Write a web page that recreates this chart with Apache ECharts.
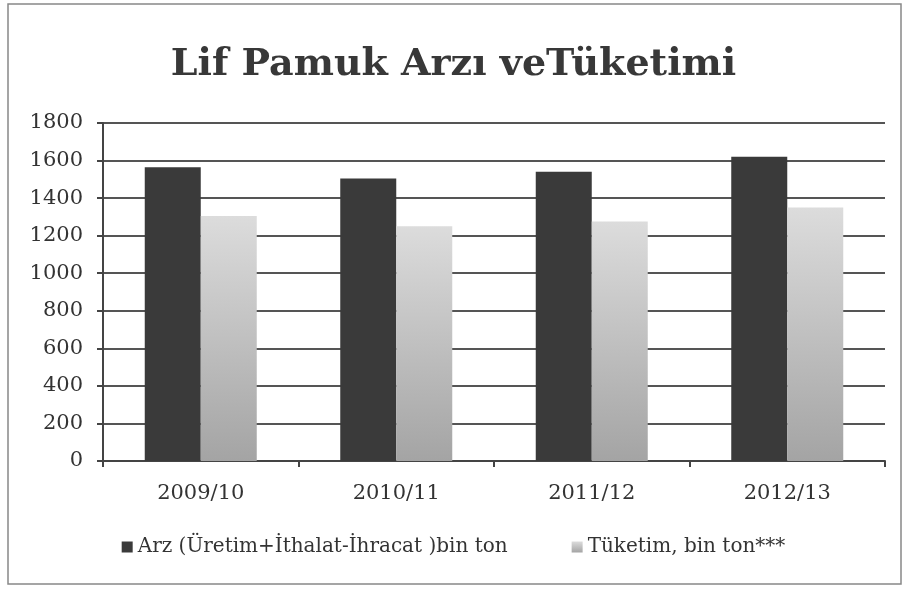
<!DOCTYPE html>
<html>
<head>
<meta charset="utf-8">
<script src="https://cdn.jsdelivr.net/npm/echarts@6/dist/echarts.min.js"></script>
<style>
  html, body { margin: 0; padding: 0; background: #fff; }
  #chart { width: 907px; height: 589px; }
</style>
</head>
<body>
<div id="chart"></div>
<script>
  // veriler
  var years = ['2009/10', '2010/11', '2011/12', '2012/13']
  var arz = [1565, 1505, 1540, 1620]
  var tuketim = [1305, 1250, 1275, 1350]
  var yTicks = [0, 200, 400, 600, 800, 1000, 1200, 1400, 1600, 1800]

  var myChart = echarts.init(document.getElementById('chart'));
  var serif = '"DejaVu Serif", "Liberation Serif", serif'

  option = {
      title: {
          text: 'Lif Pamuk Arzı veTüketimi',
          left: 'center',
          top: 41,
          textStyle: {
              fontFamily: serif,
              fontWeight: 'bold',
              fontSize: 38,
              color: '#383838'
          }
      },
      legend: {
          bottom: 27,
          left: 'center',
          itemGap: 64,
          itemWidth: 11,
          itemHeight: 11,
          icon: 'rect',
          textStyle: {
              fontFamily: serif,
              fontSize: 20,
              color: '#333'
          },
          data: ['Arz (Üretim+İthalat-İhracat )bin ton', 'Tüketim, bin ton***']
      },
      grid: {
          left: 103,
          right: 22,
          top: 123,
          bottom: 128
      },
      xAxis: {
          type: 'category',
          data: years,
          axisLine: { lineStyle: { color: '#444', width: 2 } },
          axisTick: { show: true, length: 6, lineStyle: { color: '#444', width: 2 } },
          axisLabel: {
              fontFamily: serif,
              fontSize: 21,
              color: '#333',
              margin: 22
          }
      },
      yAxis: {
          type: 'value',
          min: yTicks[0],
          max: yTicks[yTicks.length - 1],
          interval: 200,
          axisLine: { show: true, lineStyle: { color: '#444', width: 2 } },
          axisTick: { show: true, length: 6, lineStyle: { color: '#444', width: 2 } },
          splitLine: { lineStyle: { color: '#555', width: 2 } },
          axisLabel: {
              fontFamily: serif,
              fontSize: 21,
              color: '#333',
              margin: 20,
              formatter: function(v) { return String(v) }
          }
      },
      series: [{
          name: 'Arz (Üretim+İthalat-İhracat )bin ton',
          type: 'bar',
          data: arz,
          barWidth: 56,
          barGap: '0%',
          itemStyle: { color: '#3a3a3a' }
      }, {
          name: 'Tüketim, bin ton***',
          type: 'bar',
          data: tuketim,
          barWidth: 56,
          itemStyle: {
              color: new echarts.graphic.LinearGradient(0, 0, 0, 1, [
                  { offset: 0, color: '#dcdcdc' },
                  { offset: 1, color: '#a4a4a4' }
              ])
          }
      }],
      graphic: [{
          type: 'rect',
          shape: { x: 8, y: 4, width: 893, height: 580 },
          style: { fill: 'none', stroke: '#888', lineWidth: 1.5 },
          silent: true
      }]
  };
  myChart.setOption(option);
</script>
</body>
</html>
